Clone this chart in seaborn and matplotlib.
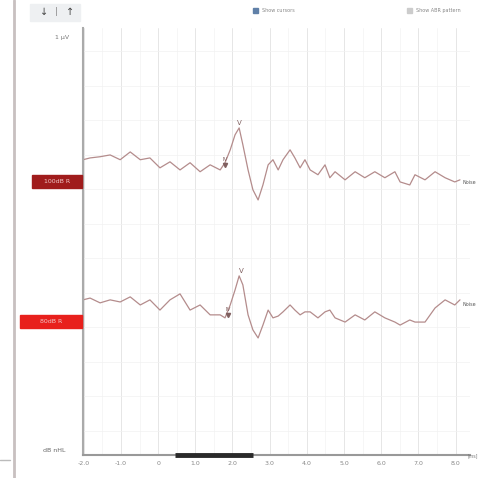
import numpy as np
import pandas as pd
import matplotlib
matplotlib.use("Agg")
import matplotlib.pyplot as plt
import seaborn as sns
from matplotlib.patches import Rectangle

# ---- data ----
time_ms = [-2.02, -1.83, -1.56, -1.29, -1.02, -0.75, -0.48, -0.22, 0.05, 0.32,
           0.59, 0.86, 1.13, 1.40, 1.67, 1.80, 1.94, 2.07, 2.18, 2.28,
           2.42, 2.55, 2.69, 2.82, 2.96, 3.09, 3.23, 3.36, 3.55, 3.68,
           3.82, 3.95, 4.09, 4.30, 4.49, 4.62, 4.76, 5.03, 5.30, 5.56,
           5.83, 6.10, 6.37, 6.51, 6.77, 6.91, 7.18, 7.45, 7.72, 7.98, 8.12]
trace_100 = [0.17, 0.23, 0.27, 0.33, 0.17, 0.43, 0.17, 0.23, -0.10, 0.10,
             -0.17, 0.07, -0.23, 0.0, -0.17, 0.07, 0.5, 1.0, 1.23, 0.67,
             -0.17, -0.83, -1.17, -0.67, 0.0, 0.17, -0.17, 0.17, 0.5, 0.23,
             -0.10, 0.17, -0.17, -0.33, 0.0, -0.43, -0.23, -0.5, -0.23, -0.43,
             -0.23, -0.43, -0.23, -0.57, -0.67, -0.33, -0.5, -0.23, -0.43, -0.57, -0.5]
trace_80 = [0.17, 0.23, 0.07, 0.17, 0.10, 0.27, 0.0, 0.17, -0.17, 0.17,
            0.37, -0.17, 0.0, -0.33, -0.33, -0.43, 0.0, 0.5, 0.97, 0.67,
            -0.33, -0.83, -1.1, -0.67, -0.17, -0.43, -0.37, -0.23, 0.0, -0.17,
            -0.33, -0.23, -0.23, -0.43, -0.23, -0.17, -0.43, -0.57, -0.33, -0.5,
            -0.23, -0.43, -0.57, -0.67, -0.5, -0.57, -0.57, -0.1, 0.17, 0.0, 0.17]
levels = ["100dB R", "80dB R"]
offsets = [9.67, 5.0]
label_colors = ["#a01c1c", "#e8201c"]
peak_IV = [(1.80, 0.0), (1.88, -0.33)]
peak_V = [(2.18, 1.23), (2.23, 0.97)]
xticks = [-2, -1, 0, 1, 2, 3, 4, 5, 6, 7, 8]
xticklabels = ["-2.0", "-1.0", "0", "1.0", "2.0", "3.0", "4.0", "5.0", "6.0", "7.0", "8.0"]
stim_bar = (0.46, 2.55)

df = pd.concat([
    pd.DataFrame({"t": time_ms, "v": np.array(tr) + off, "level": lv})
    for tr, off, lv in zip([trace_100, trace_80], offsets, levels)
])

sns.set_theme(style="white")
plt.rcParams['font.family'] = ['DejaVu Sans']

W, H = 480, 478
fig = plt.figure(figsize=(W / 100, H / 100), dpi=100)
ax = fig.add_axes([83 / W, 1 - 455 / H, (470 - 83) / W, (455 - 28) / H])

sns.lineplot(data=df, x="t", y="v", units="level", estimator=None,
             color="#b48c8c", lw=0.9, ax=ax, legend=False)

ax.set_xlim(-2.02, 8.39)
ax.set_ylim(0, 14.23)
ax.set_xticks(xticks)
ax.set_xticklabels(xticklabels, fontsize=4.5, color="#777777")
ax.set_yticks([])
ax.set_xlabel("")
ax.set_ylabel("")
ax.tick_params(axis="x", length=2, pad=2, colors="#888888")
for x in xticks:
    ax.axvline(x, color="#e6e6e6", lw=0.7, zorder=0)
    ax.axvline(x + 0.5, color="#f3f3f3", lw=0.5, zorder=0)
for y in np.arange(0.8, 14.2, 1.15):
    ax.axhline(y, color="#f1f1f1", lw=0.5, zorder=0)
for s in ["top", "right"]:
    ax.spines[s].set_visible(False)
ax.spines["left"].set_color("#aaaaaa")
ax.spines["left"].set_linewidth(1.5)
ax.spines["bottom"].set_color("#999999")
ax.spines["bottom"].set_linewidth(1.5)

# stimulus bar on x axis
ax.plot(list(stim_bar), [0, 0], color="#2a2a2a", lw=3.5, clip_on=False,
        solid_capstyle="butt", zorder=5)

# peak markers
for (tiv, aiv), (tv, av), off, tr in zip(peak_IV, peak_V, offsets, [trace_100, trace_80]):
    ax.plot(tiv, aiv + off, marker="v", color="#806060", ms=3)
    ax.text(tiv, aiv + off + 0.1, "IV", fontsize=4, color="#806060", ha="center", va="bottom")
    ax.text(tv, av + off + 0.05, "V", fontsize=5, color="#806060", ha="center", va="bottom")
    ax.text(8.2, np.mean(tr[-3:]) + off - 0.1, "Noise",
            fontsize=3.5, color="#555555", ha="left", va="center")

# level labels on the left
for off, lv, c in zip(offsets, levels, label_colors):
    yfig = ax.transData.transform((0, off - 0.55))[1] / H
    x0 = 32 / W if c == label_colors[0] else 20 / W
    fig.patches.append(Rectangle((x0, yfig - 0.014), 82 / W - x0, 0.028,
                                 transform=fig.transFigure, color=c, zorder=3))
    fig.text((x0 + 82 / W) / 2, yfig, lv, fontsize=4.5, color="#f0c8c8",
             ha="center", va="center", zorder=4)

# left decorations
fig.add_artist(plt.Line2D([14 / W, 14 / W], [0, 1], color="#c8c0c0", lw=2))
fig.add_artist(plt.Line2D([0, 10 / W], [1 - 460 / H, 1 - 460 / H], color="#bbbbbb", lw=1))
fig.patches.append(Rectangle((30 / W, 1 - 21 / H), 50 / W, 17 / H,
                             transform=fig.transFigure, color="#eef0f2", zorder=1))
fig.text(44 / W, 1 - 12 / H, "↓", fontsize=7, color="#444444", ha="center", va="center")
fig.text(70 / W, 1 - 12 / H, "↑", fontsize=7, color="#444444", ha="center", va="center")
fig.text(56 / W, 1 - 12 / H, "|", fontsize=6, color="#888888", ha="center", va="center")
fig.text(62 / W, 1 - 37 / H, "1 µV", fontsize=4.5, color="#777777", ha="center", va="center")
fig.text(54 / W, 1 - 450 / H, "dB nHL", fontsize=4.5, color="#666666", ha="center", va="center")
fig.text(478 / W, 1 - 456 / H, "[ms]", fontsize=3.3, color="#777777", ha="right", va="center")

# top legend
fig.patches.append(Rectangle((253 / W, 1 - 13 / H), 5 / W, 5 / H,
                             transform=fig.transFigure, color="#6080a8"))
fig.text(262 / W, 1 - 10.5 / H, "Show cursors", fontsize=3.5, color="#888888", va="center")
fig.patches.append(Rectangle((407 / W, 1 - 13 / H), 5 / W, 5 / H,
                             transform=fig.transFigure, color="#cccccc"))
fig.text(416 / W, 1 - 10.5 / H, "Show ABR pattern", fontsize=3.5, color="#888888", va="center")

fig.savefig("out.png", dpi=100)
